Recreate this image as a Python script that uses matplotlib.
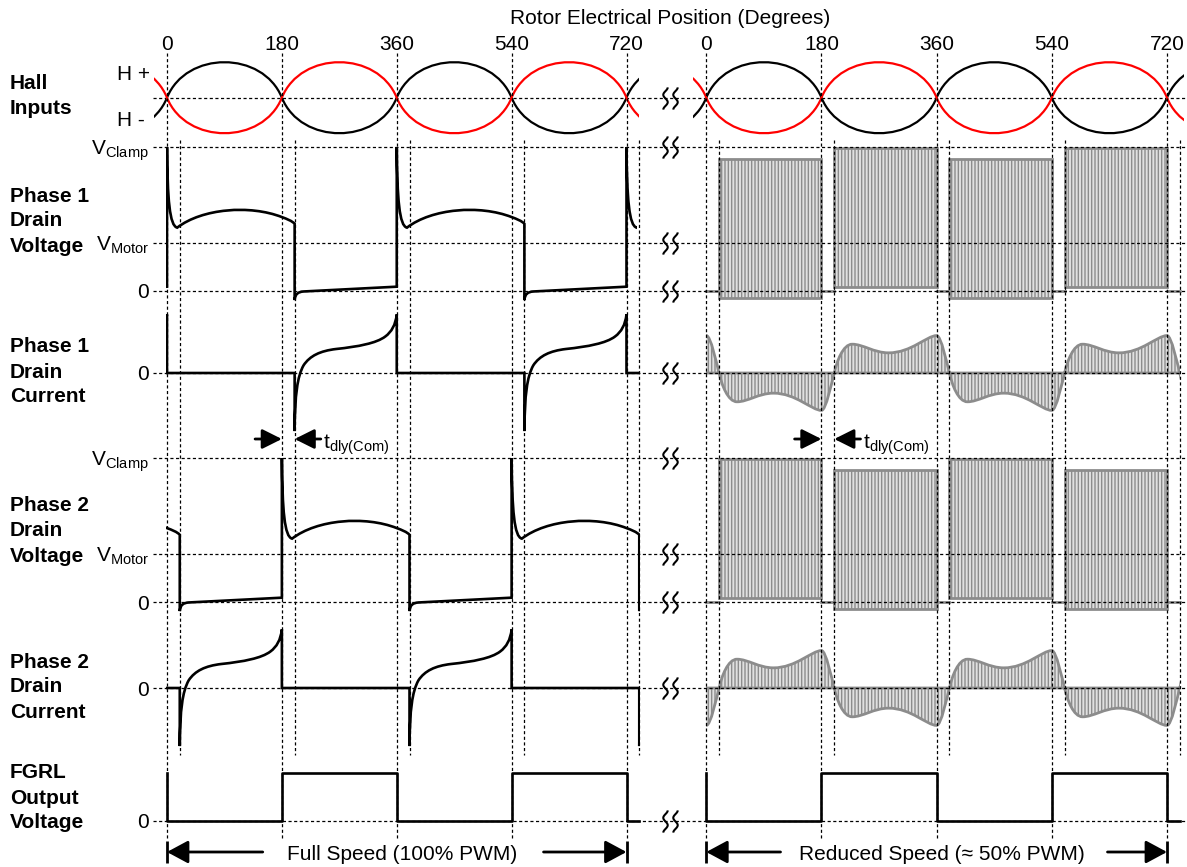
import numpy as np
import matplotlib.pyplot as plt
from matplotlib.path import Path
from matplotlib.patches import PathPatch, Rectangle

plt.rcParams['font.family'] = ['Liberation Sans', 'DejaVu Sans']
plt.rcParams['mathtext.fontset'] = 'custom'
plt.rcParams['mathtext.rm'] = 'Liberation Sans'
plt.rcParams['hatch.linewidth'] = 1.0
plt.rcParams['hatch.color'] = '#8c8c8c'

# ---------------- data (x in electrical degrees, y in signal units) ----------------
TICKS = [0, 180, 360, 540, 720]
TICK_LABELS = ['0', '180', '360', '540', '720']
DELAYED = [20, 200, 380, 560, 740]          # commutation after t_dly(Com)

# one positive hall arch, cubic control points
HALL_ARCH = [[(30, 1.333), (150, 1.333), (180, 0.0)]]

# full speed drain voltage, one period (turn-off spike at 0, turn-on at 200)
V_START = (0, 0.09)
V_PERIOD = [
    [(0, 3.0)],
    [(0.8, 1.9), (4, 1.36), (16, 1.32)],
    [(55, 1.72), (130, 1.80), (180, 1.54)],
    [(188, 1.50), (196, 1.46), (200, 1.40)],
    [(200, -0.19)],
    [(201, -0.06), (205, -0.02), (214, -0.01)],
    [(360, 0.09)],
]

# full speed drain current, one period
I_START = (0, 0.0)
I_PERIOD = [
    [(200, 0.0)],
    [(200, -1.21)],
    [(200.6, -0.45), (204, -0.08), (214, 0.16)],
    [(224, 0.36), (240, 0.46), (265, 0.50)],
    [(300, 0.55), (328, 0.62), (342, 0.76)],
    [(352, 0.86), (358, 1.0), (360, 1.22)],
    [(360, 0.0)],
]

# reduced speed drain current, one half wave starting at a zero crossing
IPWM_HALF = [
    [(4, 0.25), (14, 0.60), (28, 0.60)],
    [(45, 0.60), (62, 0.42), (85, 0.42)],
    [(120, 0.42), (145, 0.78), (160, 0.78)],
    [(167, 0.78), (176, 0.20), (180, 0.0)],
]

PHASE1_OFFSETS = [-360, 0, 360, 720]
PHASE2_OFFSETS = [-180, 180, 540]
PWM1_OFFSETS = [-160, 200, 560]
PWM2_OFFSETS = [-340, 20, 380, 740]

FG_X = [0, 0, 180, 360, 540, 720, 740]
FG_Y = [1, 0, 1, 0, 1, 0, 0]

PWM_SPANS = [(20, 180), (200, 360), (380, 540), (560, 720)]
PWM_GAPS = [(0, 20), (180, 200), (360, 380), (540, 560), (720, 740)]
V1_PWM_TOP = [2.74, 2.98, 2.74, 2.98]
V1_PWM_BOT = [-0.14, 0.09, -0.14, 0.09]
V2_PWM_TOP = [2.98, 2.74, 2.98, 2.74]
V2_PWM_BOT = [0.09, -0.14, 0.09, -0.14]

V_LEVELS = [0.0, 1.0, 3.0]
ROW_LABELS = {'hall': 'Hall\nInputs', 'v1': 'Phase 1\nDrain\nVoltage',
              'i1': 'Phase 1\nDrain\nCurrent', 'v2': 'Phase 2\nDrain\nVoltage',
              'i2': 'Phase 2\nDrain\nCurrent', 'fg': 'FGRL\nOutput\nVoltage'}
V_LABELS = [(3.0, r'V$_{\mathregular{Clamp}}$'), (1.0, r'V$_{\mathregular{Motor}}$'), (0.0, '0')]

# ---------------- layout (pixels) ----------------
W, H = 1187, 867
FULL = {'x0': 167.0, 'x720': 626.5, 'left': 0, 'right': 664}
REDUCED = {'x0': 706.3, 'x720': 1167.0, 'left': 664, 'right': W}
ROW_GEOM = {'hall': (97.7, 35.5), 'v1': (291, 48), 'i1': (373, 48),
            'v2': (602, 48), 'i2': (688, 48), 'fg': (821, 48)}
LABEL_Y = {'hall': 96, 'v1': 221, 'i1': 372, 'v2': 531, 'i2': 687, 'fg': 798}
ROW_LEVELS = {'hall': [0.0], 'v1': V_LEVELS, 'i1': [0.0], 'v2': V_LEVELS,
              'i2': [0.0], 'fg': [0.0]}

INK = 'black'
RED = '#ff0000'
GREY = '#8c8c8c'
LIGHT = '#e0e0e0'
DASH = (0, (2.5, 2.0))
FS = 15

fig = plt.figure(figsize=(W / 100, H / 100), dpi=100)


def deg_span(sec):
    k = (sec['x720'] - sec['x0']) / 720
    return (sec['left'] - sec['x0']) / k, (sec['right'] - sec['x0']) / k


def new_axes(sec, ylim):
    ax = fig.add_axes([sec['left'] / W, 0, (sec['right'] - sec['left']) / W, 1])
    ax.set_xlim(*deg_span(sec))
    ax.set_ylim(*ylim)
    ax.set_axis_off()
    return ax


def row_axes(sec, row):
    base, unit = ROW_GEOM[row]
    return new_axes(sec, ((base - H) / unit, base / unit))


def wave_path(start, steps, reps, close=False):
    dx0, sy0 = reps[0]
    verts = [(start[0] + dx0, start[1] * sy0)]
    codes = [Path.MOVETO]
    for dx, sy in reps:
        for seg in steps:
            code = Path.LINETO if len(seg) == 1 else Path.CURVE4
            for x, y in seg:
                verts.append((x + dx, y * sy))
                codes.append(code)
    if close:
        verts.append(verts[0])
        codes.append(Path.CLOSEPOLY)
    return Path(verts, codes)


def add_wave(ax, path, x0, x1, **kw):
    p = PathPatch(path, **kw)
    ax.add_patch(p)
    p.set_clip_path(Rectangle((x0, -50), x1 - x0, 100, transform=ax.transData))
    return p


# break symbol marker: two wavy strokes
tt = np.linspace(0, 1, 40)
wx = 0.2 * np.cos(3 * np.pi * tt)
wy = 1 - 2 * tt
BRK = Path(list(zip(wx - 0.45, wy)) + list(zip(wx + 0.45, wy)),
           [Path.MOVETO] + [Path.LINETO] * 39 + [Path.MOVETO] + [Path.LINETO] * 39)

axes = {}
for name, sec in (('full', FULL), ('reduced', REDUCED)):
    for row in ROW_GEOM:
        axes[name, row] = row_axes(sec, row)

# ---- level grid lines and break marks ----
for row, levels in ROW_LEVELS.items():
    axl = axes['full', row]
    axl.hlines(levels, -22, axl.get_xlim()[1], colors=INK, linestyles=DASH, lw=0.9, zorder=3)
    axr = axes['reduced', row]
    axr.hlines(levels, *axr.get_xlim(), colors=INK, linestyles=DASH, lw=0.9, zorder=3)
    axr.plot([-56.7] * len(levels), levels, ls='none', marker=BRK, ms=16,
             mec=INK, mfc='none', mew=1.5, clip_on=False, zorder=6)

# ---- hall inputs (both sections) ----
for name, end in (('full', 739), ('reduced', 746)):
    ax = axes[name, 'hall']
    for sign, color in ((1, INK), (-1, RED)):
        reps = [(k * 180, sign * (1 if k % 2 == 0 else -1)) for k in range(-1, 5)]
        add_wave(ax, wave_path((0, 0), HALL_ARCH, reps), -21, end,
                 fill=False, ec=color, lw=1.6, zorder=4)

# ---- full speed ----
ax = axes['full', 'v1']
add_wave(ax, wave_path(V_START, V_PERIOD, [(o, 1) for o in PHASE1_OFFSETS]), -0.8, 737,
         fill=False, ec=INK, lw=1.9, zorder=4)
ax = axes['full', 'v2']
add_wave(ax, wave_path(V_START, V_PERIOD, [(o, 1) for o in PHASE2_OFFSETS]), -0.8, 741,
         fill=False, ec=INK, lw=1.9, zorder=4)
ax = axes['full', 'i1']
add_wave(ax, wave_path(I_START, I_PERIOD, [(o, 1) for o in PHASE1_OFFSETS]), -0.8, 740.5,
         fill=False, ec=INK, lw=1.9, zorder=4)
ax = axes['full', 'i2']
add_wave(ax, wave_path(I_START, I_PERIOD, [(o, 1) for o in PHASE2_OFFSETS]), -0.8, 741,
         fill=False, ec=INK, lw=1.9, zorder=4)

# ---- reduced speed ----
for row, tops, bots in (('v1', V1_PWM_TOP, V1_PWM_BOT), ('v2', V2_PWM_TOP, V2_PWM_BOT)):
    ax = axes['reduced', row]
    for (a, b), top, bot in zip(PWM_SPANS, tops, bots):
        ax.add_patch(Rectangle((a, bot), b - a, top - bot, fc=LIGHT, ec=GREY,
                               hatch='|||||', lw=2, zorder=1))
    for a, b in PWM_GAPS:
        ax.plot([a, b], [0, 0], color=GREY, lw=2, zorder=1)

for row, offs in (('i1', PWM1_OFFSETS), ('i2', PWM2_OFFSETS)):
    ax = axes['reduced', row]
    reps = []
    for o in offs:
        reps += [(o, 1), (o + 180, -1)]
    add_wave(ax, wave_path((0, 0), IPWM_HALF, reps, close=True), 0, 741,
             fc=LIGHT, ec=GREY, hatch='|||||', lw=2, zorder=1)

for name in ('full', 'reduced'):
    axes[name, 'fg'].step(FG_X, FG_Y, where='post', color=INK, lw=1.9, zorder=4)

# ---- level labels ----
for row in ('v1', 'v2'):
    base, unit = ROW_GEOM[row]
    for lev, txt in V_LABELS:
        axes['full', row].text(-28.2, lev - 7.5 / unit, txt, ha='right', va='baseline', fontsize=FS)
for row in ('i1', 'i2', 'fg'):
    axes['full', row].text(-28.2, -7.5 / 48, '0', ha='right', va='baseline', fontsize=FS)
axes['full', 'hall'].text(-78.3, 0.64, 'H +', ha='left', va='center', fontsize=FS)
axes['full', 'hall'].text(-78.3, -0.63, 'H -', ha='left', va='center', fontsize=FS)

# ---- overlays: position grid, ticks, annotations ----
arrow_kw = dict(arrowstyle='-|>,head_length=0.6,head_width=0.3', lw=2, color=INK,
                shrinkA=0, shrinkB=0, mutation_scale=20)
big_kw = dict(arrowstyle='-|>,head_length=0.65,head_width=0.35', lw=2, color=INK,
              shrinkA=0, shrinkB=0, mutation_scale=20)
bottom = {'full': ('Full Speed (100% PWM)', 150, 590),
          'reduced': ('Reduced Speed (\u2248 50% PWM)', 116, 627)}

for name, sec in (('full', FULL), ('reduced', REDUCED)):
    ov = new_axes(sec, (H, 0))
    ov.vlines(TICKS, 53, 838, colors=INK, linestyles=DASH, lw=0.9, zorder=3)
    ov.vlines(DELAYED, 140, 755, colors=INK, linestyles=DASH, lw=0.9, zorder=3)
    for t, lab in zip(TICKS, TICK_LABELS):
        ov.text(t, 44, lab, ha='center', va='center', fontsize=FS)

    # commutation delay
    ov.annotate('', xy=(180, 439), xytext=(138, 439), arrowprops=arrow_kw)
    ov.annotate('', xy=(200, 439), xytext=(241, 439), arrowprops=arrow_kw)
    ov.text(245, 448, r't$_{\mathregular{dly(Com)}}$', ha='left', va='baseline', fontsize=FS)

    # speed span
    txt, lt, rt = bottom[name]
    ov.annotate('', xy=(0, 852), xytext=(lt, 852), arrowprops=big_kw)
    ov.annotate('', xy=(720, 852), xytext=(rt, 852), arrowprops=big_kw)
    ov.vlines([0, 720], 841, 863, colors=INK, lw=2)
    ov.text(368, 855, txt, ha='center', va='center', fontsize=FS)

# ---- titles and row names ----
fig.text(670 / W, 1 - 18 / H, 'Rotor Electrical Position (Degrees)',
         ha='center', va='center', fontsize=FS)
for row, lab in ROW_LABELS.items():
    fig.text(10 / W, 1 - LABEL_Y[row] / H, lab, ha='left', va='center',
             fontsize=FS, fontweight='bold', linespacing=1.4)

fig.savefig('out.png', dpi=100)
